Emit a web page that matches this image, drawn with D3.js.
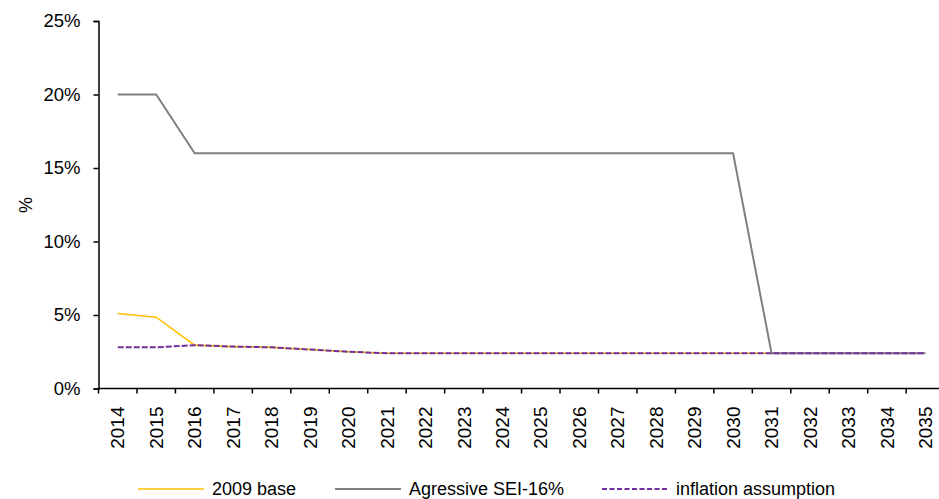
<!DOCTYPE html>
<html>
<head>
<meta charset="utf-8">
<script src="https://cdn.jsdelivr.net/npm/d3@7/dist/d3.min.js"></script>
<style>
  html, body { margin: 0; padding: 0; background: #fff; }
  svg text { font-family: "Liberation Sans", Arial, sans-serif; fill: #000; }
</style>
</head>
<body>
<svg id="chart" width="939" height="499"></svg>
<script>
// Years on the category axis
const years = ["2014","2015","2016","2017","2018","2019","2020","2021","2022","2023","2024",
               "2025","2026","2027","2028","2029","2030","2031","2032","2033","2034","2035"];

// Rates in percent, one value per year
const base2009 = [5.1, 4.85, 2.95, 2.85, 2.8, 2.65, 2.5, 2.4, 2.4, 2.4, 2.4,
                  2.4, 2.4, 2.4, 2.4, 2.4, 2.4, 2.4, 2.4, 2.4, 2.4, 2.4];
const aggressive = [20, 20, 16, 16, 16, 16, 16, 16, 16, 16, 16,
                    16, 16, 16, 16, 16, 16, 2.4, 2.4, 2.4, 2.4, 2.4];
const inflation = [2.8, 2.8, 2.95, 2.85, 2.8, 2.65, 2.5, 2.4, 2.4, 2.4, 2.4,
                   2.4, 2.4, 2.4, 2.4, 2.4, 2.4, 2.4, 2.4, 2.4, 2.4, 2.4];

const yTicks = [0, 5, 10, 15, 20, 25];

const seriesNames = ["2009 base", "Agressive SEI-16%", "inflation assumption"];

const svg = d3.select("#chart");

const plotLeft = 98.5, plotTop = 21, plotBottom = 388.5;
const band = 38.46;
const plotRight = plotLeft + band * years.length;

const x = d3.scaleBand().domain(years).range([plotLeft, plotRight]).paddingInner(0).paddingOuter(0);
const y = d3.scaleLinear().domain([0, 25]).range([plotBottom, plotTop]);

// Y axis
const yAxis = d3.axisLeft(y).tickValues(yTicks).tickSize(5).tickPadding(13)
  .tickFormat(d => d + "%");
const gy = svg.append("g").attr("transform", `translate(${plotLeft},0)`).call(yAxis);
gy.select(".domain").attr("stroke", "#000").attr("stroke-width", 1.5);
gy.selectAll(".tick line").attr("stroke", "#000").attr("stroke-width", 1.5);
gy.selectAll(".tick text").attr("font-size", 18.5)
  .attr("font-family", "Liberation Sans, Arial, sans-serif").attr("fill", "#000");

// X axis: ticks between categories, labels rotated
const gx = svg.append("g").attr("transform", `translate(0,${plotBottom})`);
gx.append("line").attr("x1", plotLeft).attr("x2", plotRight).attr("y1", 0).attr("y2", 0)
  .attr("stroke", "#000").attr("stroke-width", 1.5);
gx.selectAll("line.tk").data(years).join("line").attr("class", "tk")
  .attr("x1", d => x(d)).attr("x2", d => x(d)).attr("y1", 0).attr("y2", 5)
  .attr("stroke", "#000").attr("stroke-width", 1.5);
gx.selectAll("text").data(years).join("text")
  .attr("transform", d => `translate(${x(d) + x.bandwidth() / 2},${18}) rotate(-90)`)
  .attr("text-anchor", "end").attr("dy", "0.35em")
  .attr("font-size", 19).text(d => d);

// Y axis title
svg.append("text").attr("transform", "translate(26,205) rotate(-90)")
  .attr("text-anchor", "middle").attr("dy", "0.35em").attr("font-size", 18).text("%");

// Lines
const line = d3.line().x((d, i) => x(years[i]) + x.bandwidth() / 2).y(d => y(d));

svg.append("path").datum(base2009).attr("d", line)
  .attr("fill", "none").attr("stroke", "#FFC000").attr("stroke-width", 1.6);
svg.append("path").datum(aggressive).attr("d", line)
  .attr("fill", "none").attr("stroke", "#808080").attr("stroke-width", 2);
svg.append("path").datum(inflation).attr("d", line)
  .attr("fill", "none").attr("stroke", "#7030A0").attr("stroke-width", 2)
  .attr("stroke-dasharray", "6,2");

// Legend
const legendItems = [
  { name: seriesNames[0], color: "#FFC000", dash: null, w: 1.6, x0: 138 },
  { name: seriesNames[1], color: "#808080", dash: null, w: 2, x0: 335 },
  { name: seriesNames[2], color: "#7030A0", dash: "5,2.5", w: 2, x0: 602 }
];
const lg = svg.append("g");
const li = lg.selectAll("g").data(legendItems).join("g")
  .attr("transform", d => `translate(${d.x0},489)`);
li.append("line").attr("x1", 0).attr("x2", 66).attr("y1", 0).attr("y2", 0)
  .attr("stroke", d => d.color).attr("stroke-width", d => d.w)
  .attr("stroke-dasharray", d => d.dash);
li.append("text").attr("x", 74).attr("y", 5.5).attr("font-size", 18)
  .text(d => d.name);
</script>
</body>
</html>
